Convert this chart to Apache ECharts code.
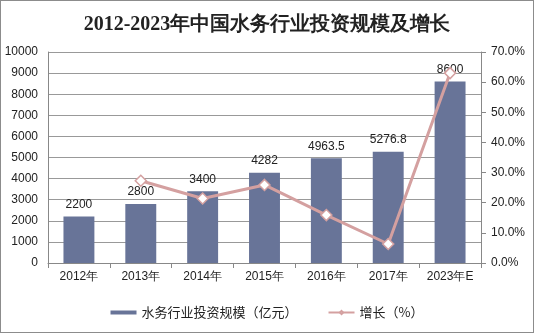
<!DOCTYPE html>
<html><head><meta charset="utf-8">
<script src="https://cdn.jsdelivr.net/npm/echarts@6/dist/echarts.min.js"></script>
<style>
html,body{margin:0;padding:0;background:#fff;}
#c{position:absolute;left:0;top:0;width:532px;height:331px;border:1px solid #8c8c8c;}
</style></head>
<body><div id="c"></div>
<script>
const categories = ['2012年','2013年','2014年','2015年','2016年','2017年','2023年E'];
const investment = [2200, 2800, 3400, 4282, 4963.5, 5276.8, 8600];
const growth = [null, 27.3, 21.4, 25.9, 15.9, 6.3, 63.0];
const leftTicks = [0, 10000, 1000];
const rightTicks = [0, 70, 10];

const chart = echarts.init(document.getElementById('c'), null, {renderer:'canvas'});
const font = '"Liberation Sans", Arial, sans-serif';
chart.setOption({
  animation:false,
  title:{text:'2012-2023年中国水务行业投资规模及增长', left:'center', top:9,
    textStyle:{fontFamily:'"Liberation Serif", serif', fontWeight:'bold', fontSize:20, color:'#222'}},
  grid:{left:47, right:52, top:51, bottom:69},
  legend:{bottom:8, left:'center', itemGap:30, itemWidth:26, itemHeight:4,
    textStyle:{fontFamily:'"Noto Sans CJK SC", sans-serif', fontSize:13, color:'#222'},
    data:[{name:'水务行业投资规模（亿元）', icon:'rect'}, {name:'增长（%）'}]},
  xAxis:{type:'category', data:categories,
    axisLine:{lineStyle:{color:'#888'}}, axisTick:{show:true, lineStyle:{color:'#888'}},
    axisLabel:{fontFamily:font, fontSize:12, color:'#222', margin:8}},
  yAxis:[
    {type:'value', min:leftTicks[0], max:leftTicks[1], interval:leftTicks[2],
     axisLine:{show:true, lineStyle:{color:'#888'}}, axisTick:{show:false},
     splitLine:{lineStyle:{color:'#999'}},
     axisLabel:{fontFamily:font, fontSize:12, color:'#222', margin:10, formatter:v=>String(v)}},
    {type:'value', min:rightTicks[0], max:rightTicks[1], interval:rightTicks[2],
     axisLine:{show:true, lineStyle:{color:'#888'}}, axisTick:{show:true, length:5, lineStyle:{color:'#888'}},
     splitLine:{show:false},
     axisLabel:{fontFamily:font, fontSize:12, color:'#222', margin:10, formatter:v=>v.toFixed(1)+'%'}}
  ],
  series:[
    {name:'水务行业投资规模（亿元）', type:'bar', data:investment, barWidth:'50%',
     itemStyle:{color:'#687498'},
     label:{show:true, position:'top', distance:6, fontFamily:font, fontSize:12, color:'#222'}},
    {name:'增长（%）', type:'line', yAxisIndex:1, data:growth,
     symbol:'diamond', symbolSize:11, showAllSymbol:true,
     lineStyle:{color:'#d4a0a0', width:3},
     itemStyle:{color:'#fff', borderColor:'#d4a0a0', borderWidth:1.5}}
  ]
});
</script></body></html>
